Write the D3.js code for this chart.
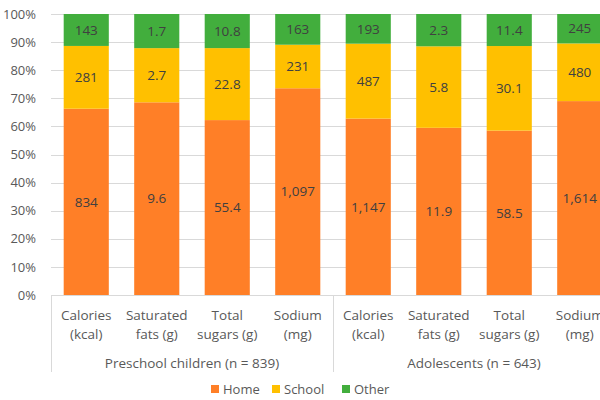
<!DOCTYPE html>
<html><head><meta charset="utf-8">
<script src="https://cdn.jsdelivr.net/npm/d3@7"></script>
<style>html,body{margin:0;padding:0;background:#fff;overflow:hidden}svg{display:block;font-family:"Open Sans",sans-serif}</style>
</head><body><svg id="c" width="600" height="400"></svg>
<script>
const categories = [["Calories","(kcal)"],["Saturated","fats (g)"],["Total","sugars (g)"],["Sodium","(mg)"],
                    ["Calories","(kcal)"],["Saturated","fats (g)"],["Total","sugars (g)"],["Sodium","(mg)"]];
const groups = ["Preschool children (n = 839)","Adolescents (n = 643)"];
const homeValues   = [834, 9.6, 55.4, 1097, 1147, 11.9, 58.5, 1614];
const schoolValues = [281, 2.7, 22.8, 231, 487, 5.8, 30.1, 480];
const otherValues  = [143, 1.7, 10.8, 163, 193, 2.3, 11.4, 245];
const seriesNames = ["Home","School","Other"];
const colors = ["#FF7F27","#FFC000","#42AE3D"];
const yTicks = [0,0.1,0.2,0.3,0.4,0.5,0.6,0.7,0.8,0.9,1];

const table = categories.map((c,i)=>({id:i, Home:homeValues[i], School:schoolValues[i], Other:otherValues[i]}));
const svg = d3.select("#c");
const pLeft = 51, pRight = 615, pTop = 14, pBottom = 295;
const x = d3.scaleBand().domain(table.map(d=>d.id)).range([pLeft,pRight]).paddingInner(0.36).paddingOuter(0.18);
const y = d3.scaleLinear().domain([0,1]).range([pBottom,pTop]);
const stack = d3.stack().keys(seriesNames).offset(d3.stackOffsetExpand);
const series = stack(table);
const fmt = d3.format(",");

// gridlines
svg.append("g").selectAll("line").data(yTicks).join("line")
  .attr("x1",pLeft).attr("x2",600).attr("y1",d=>Math.round(y(d))+0.5).attr("y2",d=>Math.round(y(d))+0.5)
  .attr("stroke","#d9d9d9").attr("stroke-width",1);

// y axis labels
const yAxis = d3.axisLeft(y).tickValues(yTicks).tickFormat(d3.format(".0%")).tickSize(0).tickPadding(15);
const ya = svg.append("g").attr("transform",`translate(${pLeft},0)`).call(yAxis);
ya.select(".domain").remove();
ya.selectAll("text").attr("fill","#595959").style("font-size","13px").style("font-family","'Open Sans',sans-serif");

// bars
const sg = svg.append("g").selectAll("g").data(series).join("g").attr("fill",(d,i)=>colors[i]);
sg.selectAll("rect").data(d=>d).join("rect")
  .attr("x",d=>x(d.data.id)).attr("width",x.bandwidth())
  .attr("y",d=>y(d[1])).attr("height",d=>y(d[0])-y(d[1]));

// labels
svg.append("g").selectAll("g").data(series).join("g").each(function(s){
  d3.select(this).selectAll("text").data(s).join("text")
    .attr("x",d=>x(d.data.id)+x.bandwidth()/2)
    .attr("y",d=>(y(d[0])+y(d[1]))/2)
    .attr("dy","0.35em").attr("text-anchor","middle")
    .attr("fill","#404040").style("font-size","13.5px")
    .text(d=>fmt(d.data[s.key]));
});

// x axis line + separators
svg.append("line").attr("x1",pLeft).attr("x2",600).attr("y1",pBottom+0.5).attr("y2",pBottom+0.5).attr("stroke","#d9d9d9");
const sepX = [pLeft, (pLeft+pRight)/2, pRight];
svg.append("g").selectAll("line").data(sepX).join("line")
  .attr("x1",d=>Math.round(d)+0.5).attr("x2",d=>Math.round(d)+0.5).attr("y1",pBottom).attr("y2",372)
  .attr("stroke","#d9d9d9");

// category labels
const cl = svg.append("g").selectAll("text").data(table).join("text")
  .attr("x",d=>x(d.id)+x.bandwidth()/2).attr("text-anchor","middle")
  .attr("fill","#595959").style("font-size","13.5px");
cl.append("tspan").attr("x",d=>x(d.id)+x.bandwidth()/2).attr("y",320).text(d=>categories[d.id][0]);
cl.append("tspan").attr("x",d=>x(d.id)+x.bandwidth()/2).attr("y",339).text(d=>categories[d.id][1]);

// group labels
svg.append("g").selectAll("text").data(groups).join("text")
  .attr("x",(d,i)=>(sepX[i]+sepX[i+1])/2).attr("y",368).attr("text-anchor","middle")
  .attr("fill","#595959").style("font-size","13.5px").text(d=>d);

// legend
const legX = [211, 272, 342];
const lg = svg.append("g").selectAll("g").data(seriesNames).join("g")
  .attr("transform",(d,i)=>`translate(${legX[i]},389)`);
lg.append("rect").attr("x",0).attr("y",-4).attr("width",8).attr("height",8).attr("fill",(d,i)=>colors[i]);
lg.append("text").attr("x",12).attr("dy","0.35em").attr("fill","#595959").style("font-size","13px").text(d=>d);
</script></body></html>
